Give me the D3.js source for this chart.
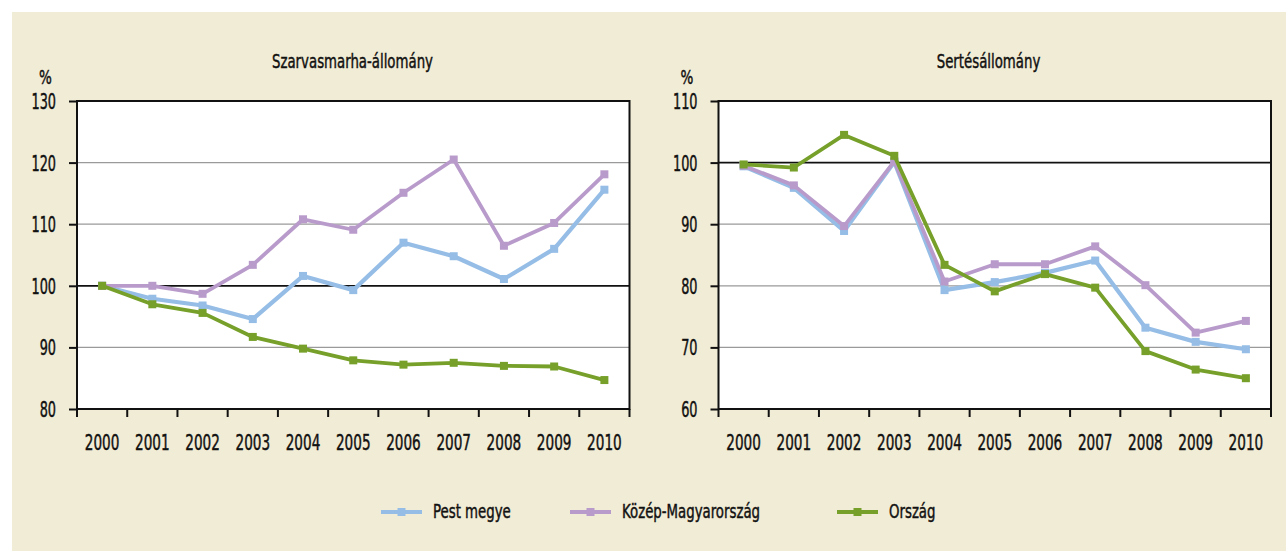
<!DOCTYPE html>
<html>
<head>
<meta charset="utf-8">
<script src="https://cdn.jsdelivr.net/npm/d3@7"></script>
<style>
  html, body { margin: 0; padding: 0; background: #ffffff; }
  svg text { font-family: "Liberation Sans Narrow", "DejaVu Sans Condensed", "Roboto Condensed", sans-serif; fill: #111; stroke: #111; stroke-width: 0.45px; }
</style>
</head>
<body>
<svg id="chart" width="1286" height="551"></svg>
<script>
// Years on the category axis
const years = ["2000","2001","2002","2003","2004","2005","2006","2007","2008","2009","2010"];

// Series names and colours
const seriesNames = ["Pest megye", "Közép-Magyarország", "Ország"];
const seriesColors = ["#95bde6", "#b99bcb", "#76a02a"];

// Cattle stock (2000 = 100%)
const cattlePest   = [100, 97.9, 96.8, 94.6, 101.6, 99.3, 107.0, 104.8, 101.1, 106.0, 115.6];
const cattleKozep  = [100, 100.0, 98.7, 103.4, 110.8, 109.1, 115.1, 120.5, 106.5, 110.2, 118.1];
const cattleOrszag = [100, 97.0, 95.6, 91.7, 89.8, 87.9, 87.2, 87.5, 87.0, 86.9, 84.7];

// Pig stock (2000 = 100%)
const pigPest   = [99.4, 95.9, 88.9, 100.1, 79.3, 80.6, 82.1, 84.1, 73.2, 70.9, 69.7];
const pigKozep  = [99.5, 96.3, 89.7, 100.2, 80.7, 83.5, 83.5, 86.4, 80.1, 72.4, 74.3];
const pigOrszag = [99.7, 99.2, 104.5, 101.1, 83.4, 79.1, 81.9, 79.7, 69.4, 66.4, 65.0];

// Y axis tick values
const cattleTicks = [80, 90, 100, 110, 120, 130];
const pigTicks = [60, 70, 80, 90, 100, 110];

const svg = d3.select("#chart");

// Narrow the glyphs of a text selection to mimic a condensed typeface
function squeeze(sel, factor) {
  sel.each(function () {
    const w = this.getComputedTextLength();
    d3.select(this).attr("textLength", w * factor).attr("lengthAdjust", "spacingAndGlyphs");
  });
}

// Beige panel
svg.append("rect").attr("x", 12).attr("y", 12).attr("width", 1274).attr("height", 539).attr("fill", "#f1ecd5");

function drawPanel(opts) {
  const { left, right, top, bottom, title, titleX, ticks, domain, series } = opts;
  const g = svg.append("g");

  const x = d3.scaleBand().domain(years).range([left, right]).padding(0);
  const y = d3.scaleLinear().domain(domain).range([bottom, top]);

  // plot background
  g.append("rect").attr("x", left).attr("y", top).attr("width", right - left).attr("height", bottom - top).attr("fill", "#fff");

  // grid lines
  g.selectAll("line.grid").data(ticks.filter(t => t !== domain[0] && t !== domain[1] && t !== 100))
    .join("line").attr("class", "grid")
    .attr("x1", left).attr("x2", right)
    .attr("y1", d => y(d)).attr("y2", d => y(d))
    .attr("stroke", "#9a9a9a").attr("stroke-width", 1.3);

  // reference line at 100
  g.append("line").attr("x1", left).attr("x2", right).attr("y1", y(100)).attr("y2", y(100))
    .attr("stroke", "#111").attr("stroke-width", 1.8);

  // series lines and markers
  const line = d3.line().x((d, i) => x(years[i]) + x.bandwidth() / 2).y(d => y(d));
  series.forEach((vals, si) => {
    g.append("path").datum(vals).attr("d", line)
      .attr("fill", "none").attr("stroke", seriesColors[si])
      .attr("stroke-width", si === 0 ? 4.2 : 3.8).attr("stroke-linejoin", "round");
    g.selectAll("rect.m" + si).data(vals).join("rect").attr("class", "m" + si)
      .attr("x", (d, i) => x(years[i]) + x.bandwidth() / 2 - 4)
      .attr("y", d => y(d) - 4)
      .attr("width", 8).attr("height", 8)
      .attr("fill", seriesColors[si]);
  });

  // frame
  g.append("rect").attr("x", left).attr("y", top).attr("width", right - left).attr("height", bottom - top)
    .attr("fill", "none").attr("stroke", "#111").attr("stroke-width", 2);

  // y axis
  const yAxis = d3.axisLeft(y).tickValues(ticks).tickSize(8).tickPadding(13).tickFormat(d3.format("d"));
  const ya = g.append("g").attr("transform", `translate(${left},0)`).call(yAxis);
  ya.select(".domain").remove();
  ya.attr("font-family", null).attr("font-size", null);
  ya.selectAll(".tick line").attr("stroke", "#111").attr("stroke-width", 2);
  ya.selectAll(".tick text").style("font-size", "21px").attr("fill", "#111").attr("dy", "0.36em")
    .call(squeeze, 0.68);

  // x axis with ticks between categories
  const xb = g.append("g").attr("transform", `translate(0,${bottom})`);
  const bounds = years.map(yr => x(yr)).concat([right]);
  xb.selectAll("line").data(bounds).join("line")
    .attr("x1", d => d).attr("x2", d => d).attr("y1", 0).attr("y2", 8)
    .attr("stroke", "#111").attr("stroke-width", 2);
  xb.selectAll("text").data(years).join("text")
    .attr("x", d => x(d) + x.bandwidth() / 2).attr("y", 41)
    .attr("text-anchor", "middle").style("font-size", "21px").text(d => d)
    .call(squeeze, 0.72);

  // title and unit
  g.append("text").attr("x", titleX).attr("y", 68).attr("text-anchor", "middle")
    .style("font-size", "20px").text(title).call(squeeze, 0.74);
  g.append("text").attr("x", left - 38).attr("y", 84).style("font-size", "20px").text("%").call(squeeze, 0.75);
}

drawPanel({
  left: 77, right: 629.5, top: 101, bottom: 409, titleX: 352.5,
  title: "Szarvasmarha-állomány", ticks: cattleTicks, domain: [80, 130],
  series: [cattlePest, cattleKozep, cattleOrszag]
});

drawPanel({
  left: 718.5, right: 1271, top: 101, bottom: 409, titleX: 988.5,
  title: "Sertésállomány", ticks: pigTicks, domain: [60, 110],
  series: [pigPest, pigKozep, pigOrszag]
});

// Legend
const legendX = [381, 570, 837];
const legend = svg.append("g");
seriesNames.forEach((name, i) => {
  const lx = legendX[i];
  legend.append("line").attr("x1", lx).attr("x2", lx + 41).attr("y1", 512).attr("y2", 512)
    .attr("stroke", seriesColors[i]).attr("stroke-width", 4);
  legend.append("rect").attr("x", lx + 16.5).attr("y", 508).attr("width", 8).attr("height", 8).attr("fill", seriesColors[i]);
  legend.append("text").attr("x", lx + 52).attr("y", 518).style("font-size", "20px").text(name).call(squeeze, 0.74);
});
</script>
</body>
</html>
